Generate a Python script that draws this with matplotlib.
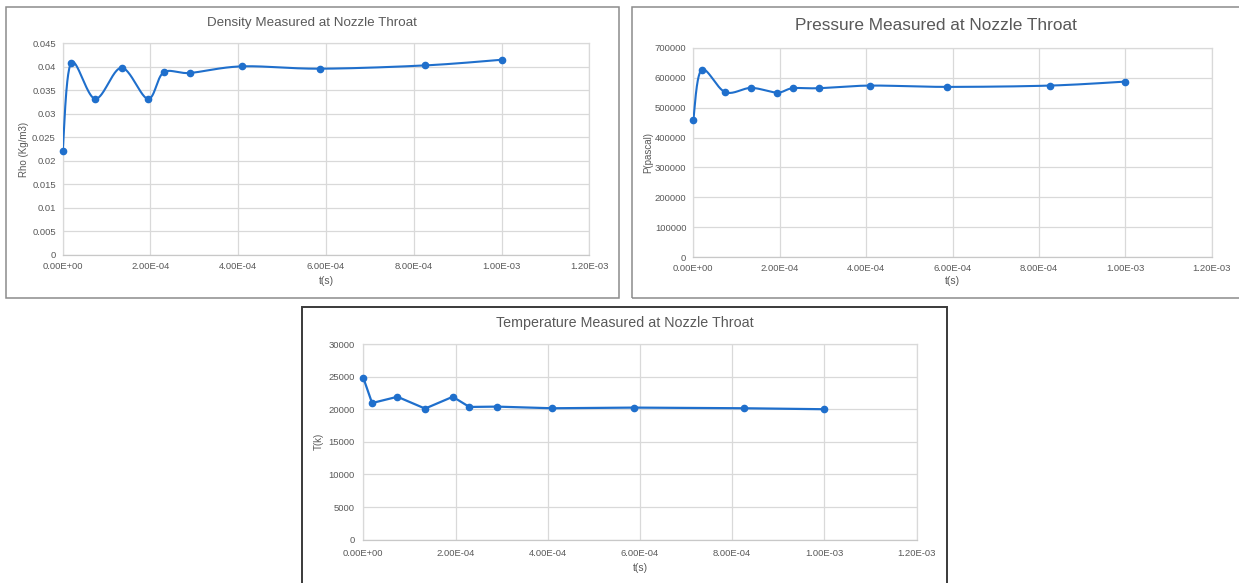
import numpy as np
import matplotlib
matplotlib.use("Agg")
import matplotlib.pyplot as plt
from matplotlib.patches import Rectangle

plt.rcParams['font.family'] = ['Liberation Sans', 'DejaVu Sans']

# Sample times (s) at the nozzle throat
time_s = [0.0, 1.9e-5, 7.4e-5, 1.34e-4, 1.94e-4, 2.30e-4, 2.90e-4,
          4.09e-4, 5.87e-4, 8.26e-4, 1.0e-3]
density = [0.0221, 0.0408, 0.0332, 0.0398, 0.0332, 0.0388, 0.0387,
           0.0401, 0.0396, 0.0403, 0.0415]
pressure = [458000, 625700, 551300, 565800, 550200, 564700, 564700,
            573500, 569100, 573500, 586800]
temperature = [24820, 20950, 21910, 20100, 21910, 20350, 20400,
               20150, 20250, 20150, 20000]

x_ticks = [0.0, 2e-4, 4e-4, 6e-4, 8e-4, 1.0e-3, 1.2e-3]
x_tick_labels = ["0.00E+00", "2.00E-04", "4.00E-04", "6.00E-04",
                 "8.00E-04", "1.00E-03", "1.20E-03"]
rho_ticks = [0, 0.005, 0.01, 0.015, 0.02, 0.025, 0.03, 0.035, 0.04, 0.045]
rho_tick_labels = ["0", "0.005", "0.01", "0.015", "0.02", "0.025",
                   "0.03", "0.035", "0.04", "0.045"]
p_ticks = [0, 100000, 200000, 300000, 400000, 500000, 600000, 700000]
t_ticks = [0, 5000, 10000, 15000, 20000, 25000, 30000]

W, H = 1239, 583
LINE = '#1f6fcc'
TXT = '#595959'
GRID = '#d9d9d9'


def smooth_curve(x, y, n=40):
    """Catmull-Rom style smoothing through every point (spreadsheet 'smoothed line')."""
    x = np.asarray(x, float)
    y = np.asarray(y, float)
    px = np.concatenate([[x[0]], x, [x[-1]]])
    py = np.concatenate([[y[0]], y, [y[-1]]])
    xs, ys = [], []
    s = np.linspace(0, 1, n)
    for i in range(1, len(px) - 2):
        p0x, p1x, p2x, p3x = px[i - 1], px[i], px[i + 1], px[i + 2]
        p0y, p1y, p2y, p3y = py[i - 1], py[i], py[i + 1], py[i + 2]
        c1x, c1y = p1x + (p2x - p0x) / 6, p1y + (p2y - p0y) / 6
        c2x, c2y = p2x - (p3x - p1x) / 6, p2y - (p3y - p1y) / 6
        bx = ((1 - s) ** 3) * p1x + 3 * ((1 - s) ** 2) * s * c1x + 3 * (1 - s) * s ** 2 * c2x + s ** 3 * p2x
        by = ((1 - s) ** 3) * p1y + 3 * ((1 - s) ** 2) * s * c1y + 3 * (1 - s) * s ** 2 * c2y + s ** 3 * p2y
        xs.append(bx)
        ys.append(by)
    return np.concatenate(xs), np.concatenate(ys)


def px_axes(fig, left, top, right, bottom):
    return fig.add_axes([left / W, 1 - bottom / H, (right - left) / W, (bottom - top) / H])


def style_axes(ax, yticks, ylabels, ymax, ylabel, pad_x, pad_y):
    ax.set_xlim(0, 1.2e-3)
    ax.set_ylim(0, ymax)
    ax.set_xticks(x_ticks)
    ax.set_xticklabels(x_tick_labels)
    ax.set_yticks(yticks)
    ax.set_yticklabels(ylabels)
    ax.tick_params(length=0, labelsize=6.8, colors=TXT)
    ax.tick_params(axis='x', pad=pad_x)
    ax.tick_params(axis='y', pad=pad_y)
    ax.grid(True, color=GRID, linewidth=0.9)
    ax.set_axisbelow(True)
    for side, sp in ax.spines.items():
        sp.set_color(GRID)
        sp.set_linewidth(0.9)
    ax.spines['bottom'].set_color('#c8c8c8')
    ax.set_ylabel(ylabel, fontsize=7, color=TXT)
    ax.set_xlabel("t(s)", fontsize=7.5, color=TXT, labelpad=2)


fig = plt.figure(figsize=(W / 100, H / 100), dpi=100)
fig.patch.set_facecolor('white')

# Panel frames
frames = [((5.7, 7.3, 618.7, 297.7), '#8c8c8c', 1.1),
          ((631.5, 7.3, 1250.0, 298.0), '#8c8c8c', 1.1),
          ((301.7, 306.7, 947.3, 600.0), '#3a3a3a', 1.4)]
for (l, t, r, b), col, lw in frames:
    fig.patches.append(Rectangle((l / W, 1 - b / H), (r - l) / W, (b - t) / H,
                                 transform=fig.transFigure, fill=False,
                                 edgecolor=col, linewidth=lw, zorder=0))

# Density
ax1 = px_axes(fig, 62.7, 43.3, 589.3, 255.0)
style_axes(ax1, rho_ticks, rho_tick_labels, 0.045, "Rho (Kg/m3)", 5, 5)
sx, sy = smooth_curve(time_s, density)
ax1.plot(sx, sy, color=LINE, linewidth=1.5, zorder=3)
ax1.plot(time_s, density, 'o', color=LINE, markersize=4.5, zorder=4, clip_on=False)
ax1.yaxis.set_label_coords((29.0 - 62.7) / (589.3 - 62.7), 0.5)
ax1.xaxis.set_label_coords(0.5, -(275.5 - 255) / (255 - 43.3))
fig.text(312 / W, 1 - 23.3 / H, "Density Measured at Nozzle Throat",
         ha='center', va='center', fontsize=9.6, color=TXT)

# Pressure
ax2 = px_axes(fig, 693.3, 47.7, 1211.7, 257.3)
style_axes(ax2, p_ticks, [str(v) for v in p_ticks], 700000, "P(pascal)", 5, 5)
sx, sy = smooth_curve(time_s, pressure)
ax2.plot(sx, sy, color=LINE, linewidth=1.5, zorder=3)
ax2.plot(time_s, pressure, 'o', color=LINE, markersize=4.5, zorder=4, clip_on=False)
ax2.yaxis.set_label_coords((653.5 - 693.3) / (1211.7 - 693.3), 0.5)
ax2.xaxis.set_label_coords(0.5, -(276.5 - 257.3) / (257.3 - 47.7))
fig.text(935.5 / W, 1 - 25 / H, "Pressure Measured at Nozzle Throat",
         ha='center', va='center', fontsize=12.4, color=TXT)

# Temperature
ax3 = px_axes(fig, 363.3, 344.0, 916.7, 539.7)
style_axes(ax3, t_ticks, [str(v) for v in t_ticks], 30000, "T(k)", 6.5, 6)
ax3.plot(time_s, temperature, '-o', color=LINE, linewidth=1.6, markersize=4.5,
         zorder=3, clip_on=False)
ax3.yaxis.set_label_coords((324.0 - 363.3) / (916.7 - 363.3), 0.5)
ax3.xaxis.set_label_coords(0.5, -(563.0 - 539.7) / (539.7 - 344.0))
fig.text(625 / W, 1 - 322.7 / H, "Temperature Measured at Nozzle Throat",
         ha='center', va='center', fontsize=10.3, color=TXT)

fig.savefig("out.png", dpi=100, facecolor='white')
